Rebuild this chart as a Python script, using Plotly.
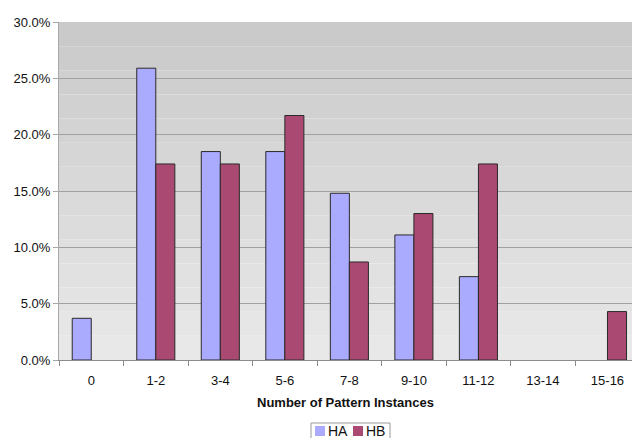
import plotly.graph_objects as go

categories = ["0", "1-2", "3-4", "5-6", "7-8", "9-10", "11-12", "13-14", "15-16"]
ha_values = [3.7, 25.9, 18.5, 18.5, 14.8, 11.1, 7.4, 0.0, 0.0]
hb_values = [0.0, 17.4, 17.4, 21.7, 8.7, 13.0, 17.4, 0.0, 4.3]
y_ticks = [0, 5, 10, 15, 20, 25, 30]
y_tick_text = [f"{v:.1f}%" for v in y_ticks]

series = [("HA", ha_values, "#AAAAFF"), ("HB", hb_values, "#AA4A72")]

fig = go.Figure()
for name, vals, color in series:
    # empty bars get no outline so nothing is drawn for them
    widths = [1 if v > 0 else 0 for v in vals]
    fig.add_trace(go.Bar(name=name, x=categories, y=vals,
                         marker=dict(color=color, line=dict(color="#2a2a2a", width=widths))))

# banded vertical gradient behind the plot area
n_bands = 14
top_c, bot_c = 0xCA, 0xE8
for i in range(n_bands):
    t = i / (n_bands - 1)
    v = round(bot_c + (top_c - bot_c) * t)
    fig.add_shape(type="rect", xref="paper", yref="paper",
                  x0=0, x1=1, y0=i / n_bands, y1=(i + 1) / n_bands,
                  fillcolor=f"rgb({v},{v},{v})", line=dict(width=0), layer="below")

# legend box at the bottom, drawn in pixel offsets from the plot area
W, H = 632, 438
L, R, T, B = 59, 0, 22, 78
pw, ph = W - L - R, H - T - B


def px(x):
    return (x - L) / pw


def py(y):
    return (H - B - y) / ph


fig.add_shape(type="rect", xref="paper", yref="paper",
              x0=px(311), x1=px(390), y0=py(440), y1=py(423),
              fillcolor="white", line=dict(color="#9a9a9a", width=1))
legend_x = [315, 353]
for (name, _, color), lx in zip(series, legend_x):
    fig.add_shape(type="rect", xref="paper", yref="paper",
                  x0=px(lx), x1=px(lx + 10), y0=py(436), y1=py(426),
                  fillcolor=color, line=dict(width=0))
    fig.add_annotation(text=name, xref="paper", yref="paper",
                       x=px(lx + 11), y=py(431), xanchor="left", yanchor="middle",
                       showarrow=False, font=dict(size=14, color="#111"))

font = "Liberation Sans, Arial, sans-serif"
fig.update_layout(
    width=W, height=H,
    margin=dict(l=L, r=R, t=T, b=B, autoexpand=False),
    paper_bgcolor="white", plot_bgcolor="rgba(0,0,0,0)",
    barmode="group", bargap=0.41, bargroupgap=0,
    font=dict(family=font, size=12, color="#111"),
    showlegend=False,
    xaxis=dict(type="category", range=[-0.5, 8.38], showgrid=False,
               showline=True, linecolor="#8c8c8c", linewidth=1,
               ticks="outside", tickson="boundaries", ticklen=5, tickcolor="#8c8c8c",
               ticklabelstandoff=8,
               title=dict(text="<b>Number of Pattern Instances</b>", font=dict(size=13), standoff=11),
               tickfont=dict(size=13)),
    yaxis=dict(range=[0, 30], tickmode="array", tickvals=y_ticks, ticktext=y_tick_text,
               showgrid=True, gridcolor="#a0a0a0", gridwidth=1,
               showline=True, linecolor="#a8a8a8", linewidth=1,
               ticks="outside", ticklen=5, tickcolor="#a8a8a8",
               zeroline=False, tickfont=dict(size=13)),
)

fig.write_html("out.html")
